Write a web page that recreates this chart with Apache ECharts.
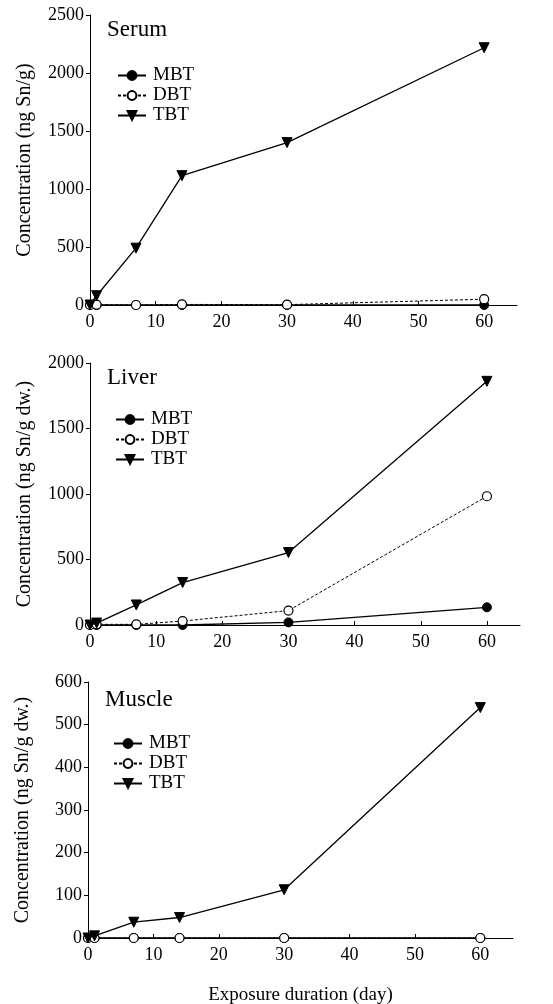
<!DOCTYPE html>
<html><head><meta charset="utf-8">
<script src="https://cdn.jsdelivr.net/npm/echarts@6/dist/echarts.min.js"></script>
<style>html,body{margin:0;padding:0;background:#fff}#c{width:553px;height:1004px}</style>
</head><body><div id="c"></div>
<script>
const days = [0, 1, 7, 14, 30, 60];
const xTicks = [0, 10, 20, 30, 40, 50, 60];
const panelTitles = ['Serum', 'Liver', 'Muscle'];
const yNames = ['Concentration (ng Sn/g)', 'Concentration (ng Sn/g dw.)', 'Concentration (ng Sn/g dw.)'];
const yMax = [2500, 2000, 600];
const yStep = [500, 500, 100];
const seriesNames = ['MBT', 'DBT', 'TBT'];

const serumMBT = [0, 0, 0, 0, 0, 0];
const serumDBT = [0, 3, 0, 5, 3, 50];
const serumTBT = [0, 80, 490, 1115, 1400, 2218];

const liverMBT = [0, 0, 0, 0, 20, 135];
const liverDBT = [0, 5, 5, 30, 110, 983];
const liverTBT = [0, 15, 153, 324, 553, 1860];

const muscleMBT = [0, 0, 0, 0, 0, 0];
const muscleDBT = [0, 0, 0, 0, 0, 0];
const muscleTBT = [0, 5, 37, 48, 113, 540];

const panelData = [
  [serumMBT, serumDBT, serumTBT],
  [liverMBT, liverDBT, liverTBT],
  [muscleMBT, muscleDBT, muscleTBT]
];

const FONT = 'Liberation Serif';
const grids = [
  {left: 90, top: 15, width: 427, height: 290},
  {left: 90, top: 363, width: 430, height: 262},
  {left: 88, top: 682, width: 425, height: 256}
];
const titlePos = [[107, 18], [107, 366], [105, 688]];
const legendTop = [66, 410, 734];
const legendLeft = [117, 115, 113];

const pair = v => days.map((d, i) => [d, v[i]]);
const styles = [
  {symbol: 'circle', symbolSize: 9, itemStyle: {color: '#000', borderColor: '#000', borderWidth: 1}, lineStyle: {color: '#000', width: 1.3, type: 'solid'}},
  {symbol: 'circle', symbolSize: 9, itemStyle: {color: '#fff', borderColor: '#000', borderWidth: 1.2}, lineStyle: {color: '#000', width: 1, type: [3, 2]}},
  {symbol: 'triangle', symbolRotate: 180, symbolSize: 10, itemStyle: {color: '#000', borderColor: '#000', borderWidth: 1}, lineStyle: {color: '#000', width: 1.3, type: 'solid'}}
];

const option = {
  animation: false,
  backgroundColor: '#fff',
  title: panelTitles.map((t, i) => ({
    text: t, left: titlePos[i][0], top: titlePos[i][1], padding: 0,
    textStyle: {fontFamily: FONT, fontSize: 23, fontWeight: 'normal', color: '#000'}
  })),
  legend: panelTitles.map((t, i) => ({
    orient: 'vertical', left: legendLeft[i], top: legendTop[i], padding: 0,
    itemWidth: 28, itemHeight: 11, itemGap: 1,
    data: seriesNames,
    selectedMode: false,
    textStyle: {fontFamily: FONT, fontSize: 19, color: '#000', lineHeight: 18, padding: [0, 0, 0, 2]}
  })),
  grid: grids.map(g => Object.assign({outerBoundsMode: 'none', containLabel: false}, g)),
  xAxis: grids.map((g, i) => ({
    gridIndex: i, type: 'value', min: 0, max: 65, interval: 10,
    name: i === 2 ? 'Exposure duration (day)' : '',
    nameLocation: 'middle', nameGap: 48,
    nameTextStyle: {fontFamily: FONT, fontSize: 19, color: '#000'},
    splitLine: {show: false},
    axisLine: {lineStyle: {color: '#000', width: 1}},
    axisTick: {inside: true, length: 4, lineStyle: {color: '#000'}, customValues: xTicks},
    axisLabel: {fontFamily: FONT, fontSize: 18, color: '#000', margin: 8, customValues: xTicks}
  })),
  yAxis: grids.map((g, i) => ({
    gridIndex: i, type: 'value', min: 0, max: yMax[i], interval: yStep[i],
    name: yNames[i], nameLocation: 'middle', nameGap: 55,
    nameTextStyle: {fontFamily: FONT, fontSize: 20, color: '#000'},
    splitLine: {show: false},
    axisLine: {show: true, lineStyle: {color: '#000', width: 1}},
    axisTick: {show: true, length: 4, lineStyle: {color: '#000'}},
    axisLabel: {fontFamily: FONT, fontSize: 18, color: '#000', margin: 6, formatter: v => String(v)}
  })),
  series: []
};

panelData.forEach((arrs, p) => {
  arrs.forEach((vals, k) => {
    option.series.push(Object.assign({
      type: 'line', name: seriesNames[k], xAxisIndex: p, yAxisIndex: p,
      data: pair(vals), clip: false, z: 2 + k
    }, JSON.parse(JSON.stringify(styles[k]))));
  });
});

const chart = echarts.init(document.getElementById('c'), null, {renderer: 'canvas'});
chart.setOption(option);
</script>
</body></html>
